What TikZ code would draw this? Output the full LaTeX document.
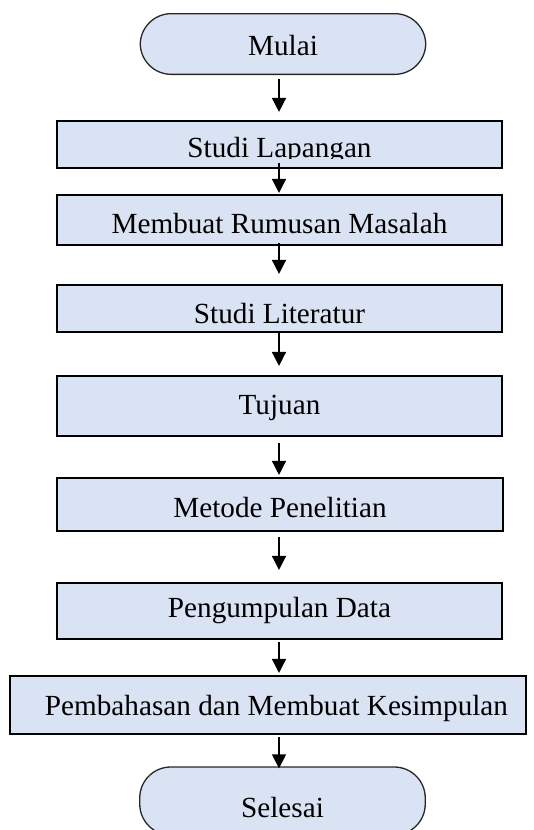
\documentclass[tikz,border=0pt]{standalone}
\usepackage{fontspec}
\setmainfont{Liberation Serif}
\usetikzlibrary{arrows.meta,calc}
\definecolor{boxfill}{HTML}{DAE3F3}
\begin{document}
\begin{tikzpicture}[x=1pt,y=-1pt,
  every node/.style={font=\fontsize{29.2}{35}\selectfont, text depth=0pt, inner sep=0pt},
  stepbox/.style={rectangle, draw=black, line width=1.7pt, fill=boxfill, minimum width=445.5pt},
  term/.style={rectangle, draw=black!85, line width=1.3pt, fill=boxfill, minimum width=285.5pt, rounded corners=31pt},
  arr/.style={line width=1.4pt, -{Triangle[width=14pt,length=14pt]}},
  th/.style={text height=#1}
]
\useasboundingbox (0,0) rectangle (534,830);
\coordinate (ax) at (279,0);

\node[term, minimum height=60.7pt, th=22.3pt] (start) at (283,44) {Mulai};

\node[stepbox, minimum height=47.4pt] (sl) at (279.5,144.5) {};
\begin{scope}
  \clip (sl.north west) rectangle ($(sl.east)+(0,13.5)$);
  \node[th=25.3pt] (sltext) at (sl.center) {Studi Lapangan};
\end{scope}

\node[stepbox, minimum height=50.4pt, th=26.3pt] (mr) at (279.5,220) {Membuat Rumusan Masalah};
\node[stepbox, minimum height=47.4pt, th=30.3pt] (slit) at (279.5,308.5) {Studi Literatur};
\node[stepbox, minimum height=60.4pt, th=16.3pt] (tuj) at (279.5,406) {Tujuan};
\node[stepbox, minimum height=53.4pt, th=26.3pt] (met) at (280,504.5) {Metode Penelitian};
\node[stepbox, minimum height=56.4pt, th=13.3pt] (peng) at (279.5,611) {Pengumpulan Data};
\node[stepbox, minimum height=58.4pt, minimum width=516.4pt, th=21.3pt] (pemb) at (268,705) {\hspace*{17pt}Pembahasan dan Membuat Kesimpulan};
\node[term, minimum height=68pt, th=33.3pt] (end) at (282.5,801) {Selesai};

\draw[arr] ($(start.south -| ax)+(0,4)$) -- ($(sl.north -| ax)+(0,-8)$);
\draw[arr] ($(sl.south -| ax)+(0,-6)$) -- ($(mr.north -| ax)+(0,-1)$);
\draw[arr] ($(mr.south -| ax)+(0,-3)$) -- ($(slit.north -| ax)+(0,-10)$);
\draw[arr] ($(slit.south -| ax)+(0,0)$) -- ($(tuj.north -| ax)+(0,-9)$);
\draw[arr] ($(tuj.south -| ax)+(0,6)$) -- ($(met.north -| ax)+(0,-2)$);
\draw[arr] ($(met.south -| ax)+(0,5)$) -- ($(peng.north -| ax)+(0,-12)$);
\draw[arr] ($(peng.south -| ax)+(0,2)$) -- ($(pemb.north -| ax)+(0,-2)$);
\draw[arr] ($(pemb.south -| ax)+(0,2)$) -- ($(end.north -| ax)+(0,2)$);
\end{tikzpicture}
\end{document}
